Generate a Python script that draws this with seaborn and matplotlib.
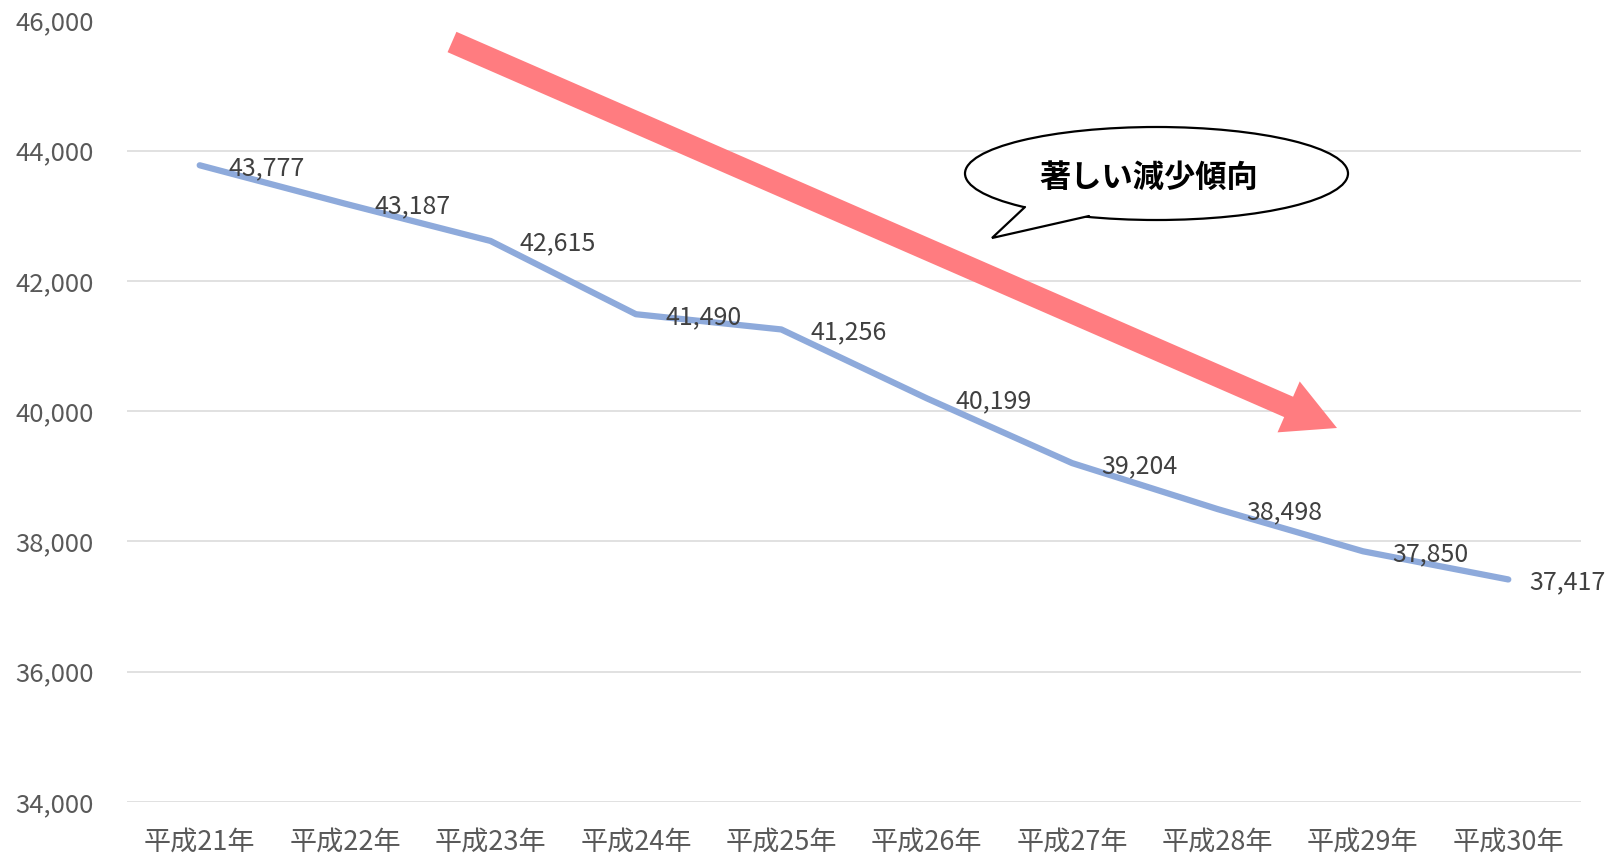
import matplotlib
matplotlib.use("Agg")
import matplotlib.pyplot as plt
from matplotlib.patches import Ellipse, Polygon
from matplotlib.lines import Line2D
from matplotlib.ticker import FuncFormatter
import seaborn as sns
import pandas as pd

years = ["平成21年", "平成22年", "平成23年", "平成24年", "平成25年",
         "平成26年", "平成27年", "平成28年", "平成29年", "平成30年"]
values = [43777, 43187, 42615, 41490, 41256, 40199, 39204, 38498, 37850, 37417]
y_ticks = [34000, 36000, 38000, 40000, 42000, 44000, 46000]
callout_text = "著しい減少傾向"

W, H = 1608, 860


def fx(px):
    return px / W


def fy(py):
    return 1 - py / H


sns.set_style("white")
plt.rcParams["font.family"] = ["Noto Sans CJK JP", "DejaVu Sans"]

df = pd.DataFrame({"year": years, "value": values})

fig = plt.figure(figsize=(W / 100, H / 100), dpi=100)
ax = fig.add_axes([fx(127), fy(802), fx(1581) - fx(127), fy(20.5) - fy(802)])

sns.lineplot(data=df, x="year", y="value", ax=ax, color="#8eaadb",
             linewidth=4.5, solid_capstyle="round", zorder=3)

ax.set_xlim(-0.5, len(years) - 0.5)
ax.set_ylim(y_ticks[0], y_ticks[-1])
ax.set_yticks(y_ticks)
ax.yaxis.set_major_formatter(FuncFormatter(lambda v, p: f"{int(v):,}"))
ax.grid(axis="y", color="#d9d9d9", linewidth=1.1)
ax.set_axisbelow(True)
for s in ax.spines.values():
    s.set_visible(False)
ax.set_xlabel("")
ax.set_ylabel("")
ax.tick_params(axis="y", length=0, pad=24, labelsize=18.5, labelcolor="#595959")
ax.tick_params(axis="x", length=0, pad=19, labelsize=19.5, labelcolor="#595959")

# data labels
for i, v in enumerate(values):
    off = 15 if i == len(values) - 1 else 21
    ax.annotate(f"{v:,}", (i, v), xytext=(off, -2), textcoords="offset points",
                ha="left", va="center", fontsize=18, color="#404040", zorder=4)

# big downward arrow
ax.annotate("", xy=(fx(1337), fy(428)), xycoords="figure fraction",
            xytext=(fx(452), fy(42)), textcoords="figure fraction",
            arrowprops=dict(arrowstyle="simple,head_length=38,head_width=40,tail_width=16",
                            mutation_scale=1, color="#ff7c80", shrinkA=0, shrinkB=0,
                            linewidth=0),
            zorder=2)

# speech bubble
ell = Ellipse((fx(1156.5), fy(173.5)), fx(383), 93 / H, transform=fig.transFigure,
              facecolor="white", edgecolor="black", linewidth=1.6, zorder=5)
fig.patches.append(ell)
tail_pts = [(1025, 207), (992, 238), (1089, 216), (1089, 204), (1025, 196)]
tail = Polygon([(fx(x), fy(y)) for x, y in tail_pts], closed=True,
               transform=fig.transFigure, facecolor="white", edgecolor="none",
               zorder=6)
fig.patches.append(tail)
fig.lines.append(Line2D([fx(1025), fx(992), fx(1089)], [fy(207), fy(238), fy(216)],
                        transform=fig.transFigure, color="black", linewidth=1.6,
                        solid_joinstyle="miter", zorder=7))
fig.text(fx(1149), fy(178), callout_text, ha="center", va="center",
         fontsize=22.5, fontweight="bold", color="black", zorder=8)

fig.savefig("out.png", dpi=100, facecolor="white")
